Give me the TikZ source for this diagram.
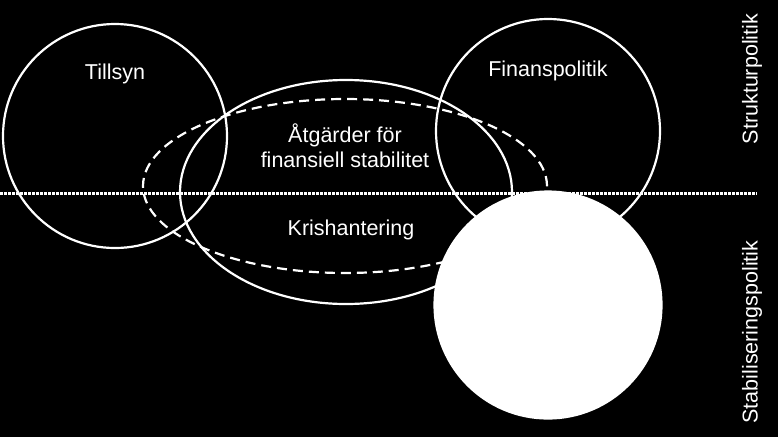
\documentclass[tikz,border=0pt]{standalone}
\usepackage{fontspec}
\setmainfont{Liberation Sans}
\usetikzlibrary{shapes.geometric}
\begin{document}
\begin{tikzpicture}[x=1pt,y=-1pt,
  ring/.style={circle,draw=white,line width=2.2pt,inner sep=0pt,minimum size=224pt},
  oval/.style={ellipse,draw=white,line width=2.2pt,inner sep=0pt},
  lbl/.style={text=white,font=\fontsize{21.5}{25}\selectfont,align=center,inner sep=0pt}]
\fill[black] (0,0) rectangle (778,437);
\useasboundingbox (0,0) rectangle (778,437);
\node[ring] (tillsyn) at (115,136) {};
\node[oval,minimum width=332pt,minimum height=224pt] (atg) at (346,192) {};
\node[oval,dash pattern=on 10pt off 6pt,minimum width=404pt,minimum height=174pt] (kris) at (345,186) {};
\node[ring] (finans) at (548,131) {};
\coordinate (dl) at (0,193);
\coordinate (dr) at (757,193);
\draw[white,line width=3pt,dash pattern=on 2.7pt off 1.3pt] (dl) -- (dr);
\node[ring,fill=white,minimum size=227pt] (stab) at (548,305) {};
\node[lbl] (t1) at (115,74) {Tillsyn};
\node[lbl] (t2) at (548,71) {Finanspolitik};
\node[lbl] (t3) at (345,146) {Åtgärder för\\finansiell stabilitet};
\node[lbl] (t4) at (351,230) {Krishantering};
\node[lbl,rotate=90] (t5) at (752,79) {Strukturpolitik};
\node[lbl,rotate=90] (t6) at (752,332) {Stabiliseringspolitik};
\end{tikzpicture}
\end{document}
